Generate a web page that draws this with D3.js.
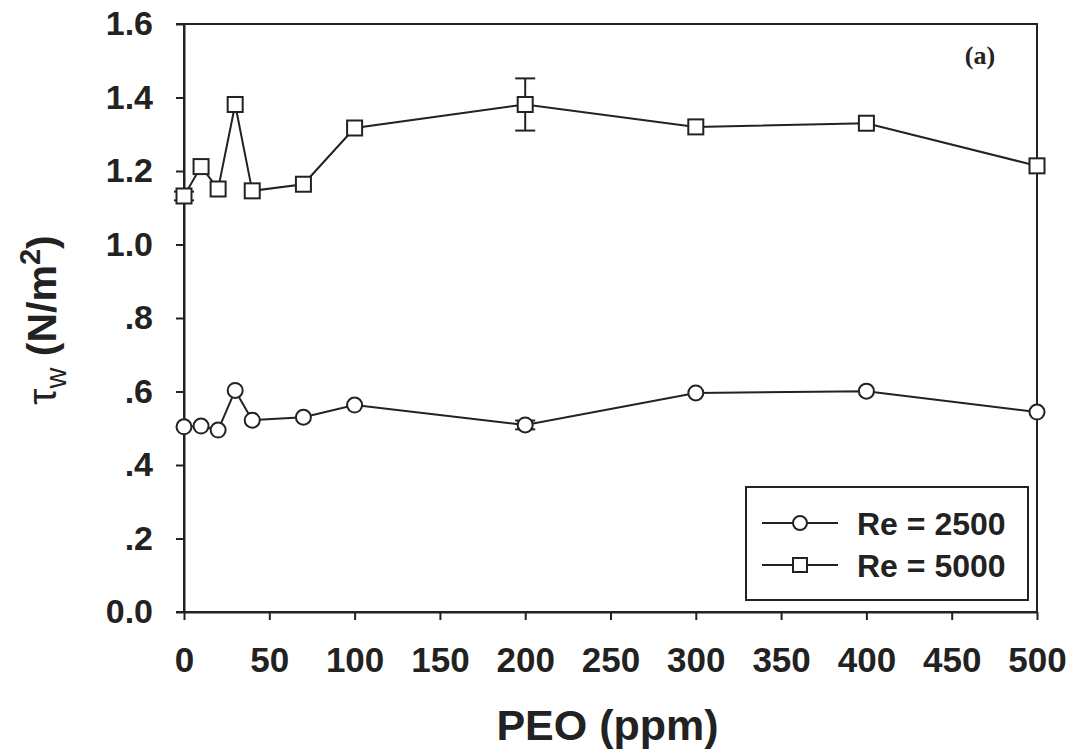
<!DOCTYPE html>
<html lang="en">
<head>
<meta charset="UTF-8">
<script src="https://d3js.org/d3.v7.min.js"></script>
<style>
  body { margin: 0; background: #fff; }
  #plot { width: 1072px; height: 755px; }
</style>
</head>
<body>
<div id="plot"></div>
<script>
// PEO concentration (ppm)
const peo = [0, 10, 20, 30, 40, 70, 100, 200, 300, 400, 500];
// wall shear stress, N/m^2
const re2500 = [0.504, 0.506, 0.495, 0.603, 0.522, 0.530, 0.563, 0.509, 0.596, 0.601, 0.544];
const re5000 = [1.132, 1.212, 1.151, 1.381, 1.146, 1.164, 1.317, 1.381, 1.320, 1.330, 1.214];
// error bar half widths
const err2500 = [0, 0, 0, 0, 0, 0, 0, 0.012, 0, 0, 0];
const err5000 = [0.012, 0, 0, 0, 0, 0, 0, 0.071, 0, 0, 0];
const xTicks = [0, 50, 100, 150, 200, 250, 300, 350, 400, 450, 500];
const yTicks = [0, 0.2, 0.4, 0.6, 0.8, 1.0, 1.2, 1.4, 1.6];
const yTickLabels = ["0.0", ".2", ".4", ".6", ".8", "1.0", "1.2", "1.4", "1.6"];

const W = 1072, H = 755;
const ink = "#222";
const font = "'Liberation Sans', Arial, sans-serif";
const mLeft = 184, mRight = 1037, mTop = 24, mBottom = 612;

const svg = d3.select("#plot").append("svg")
    .attr("width", W).attr("height", H)
    .style("font-family", font);

const x = d3.scaleLinear().domain([0, 500]).range([mLeft, mRight]);
const y = d3.scaleLinear().domain([0, 1.6]).range([mBottom, mTop]);

// frame
svg.append("rect")
    .attr("x", mLeft).attr("y", mTop)
    .attr("width", mRight - mLeft).attr("height", mBottom - mTop)
    .attr("fill", "none").attr("stroke", ink).attr("stroke-width", 2);

// axes
const xAxis = svg.append("g")
    .attr("transform", `translate(0,${mBottom})`)
    .call(d3.axisBottom(x).tickValues(xTicks).tickSize(8).tickPadding(27).tickSizeOuter(0));
const yAxis = svg.append("g")
    .attr("transform", `translate(${mLeft},0)`)
    .call(d3.axisLeft(y).tickValues(yTicks).tickSize(8).tickPadding(23).tickSizeOuter(0)
      .tickFormat((d, i) => yTickLabels[i]));

[xAxis, yAxis].forEach(g => {
  g.select(".domain").attr("stroke", ink).attr("stroke-width", 2);
  g.selectAll(".tick line").attr("stroke", ink).attr("stroke-width", 2);
  g.selectAll(".tick text")
    .attr("fill", ink)
    .style("font-family", font)
    .style("font-weight", "bold");
});
xAxis.selectAll(".tick text").style("font-size", "35px");
yAxis.selectAll(".tick text").style("font-size", "34px");
// extend axis lines a little past the origin like the original
svg.append("line").attr("x1", mLeft - 8).attr("x2", mLeft).attr("y1", mBottom).attr("y2", mBottom)
    .attr("stroke", ink).attr("stroke-width", 2);
svg.append("line").attr("x1", mLeft - 8).attr("x2", mLeft).attr("y1", mTop).attr("y2", mTop)
    .attr("stroke", ink).attr("stroke-width", 2);

// axis titles
svg.append("text")
    .attr("x", (mLeft + mRight) / 2 - 3).attr("y", 740)
    .attr("text-anchor", "middle")
    .attr("fill", ink)
    .style("font-size", "43px").style("font-weight", "bold")
    .text("PEO (ppm)");

const yt = svg.append("text")
    .attr("transform", `translate(56,${(mTop + mBottom) / 2 + 2}) rotate(-90)`)
    .attr("text-anchor", "middle")
    .attr("fill", ink)
    .style("font-size", "41px").style("font-weight", "bold");
yt.append("tspan").style("font-weight", "normal").text("τ");
yt.append("tspan").attr("dy", 10).style("font-size", "29px").style("font-weight", "normal").text("w");
yt.append("tspan").attr("dy", -10).text(" (N/m");
yt.append("tspan").attr("dy", -16).style("font-size", "29px").text("2");
yt.append("tspan").attr("dy", 16).text(")");

// panel label
svg.append("text")
    .attr("x", 980).attr("y", 64)
    .attr("text-anchor", "middle")
    .attr("fill", ink)
    .style("font-family", "'Liberation Serif', 'Times New Roman', serif")
    .style("font-size", "26px").style("font-weight", "bold")
    .text("(a)");

const line = d3.line().x(d => x(d[0])).y(d => y(d[1]));

function series(vals, errs, shape) {
  const pts = peo.map((p, i) => [p, vals[i], errs[i]]);
  const g = svg.append("g");
  g.append("path").datum(pts)
      .attr("d", line).attr("fill", "none")
      .attr("stroke", ink).attr("stroke-width", 2);
  const eb = g.selectAll(".eb").data(pts.filter(d => d[2] > 0)).join("g");
  eb.append("line")
      .attr("x1", d => x(d[0])).attr("x2", d => x(d[0]))
      .attr("y1", d => y(d[1] - d[2])).attr("y2", d => y(d[1] + d[2]))
      .attr("stroke", ink).attr("stroke-width", 2);
  [-1, 1].forEach(s => {
    eb.append("line")
        .attr("x1", d => x(d[0]) - 10).attr("x2", d => x(d[0]) + 10)
        .attr("y1", d => y(d[1] + s * d[2])).attr("y2", d => y(d[1] + s * d[2]))
        .attr("stroke", ink).attr("stroke-width", 2);
  });
  drawMarkers(g, pts, shape);
}

function drawMarkers(g, pts, shape) {
  if (shape === "circle") {
    g.selectAll("circle").data(pts).join("circle")
        .attr("cx", d => x(d[0])).attr("cy", d => y(d[1])).attr("r", 7.5)
        .attr("fill", "#fff").attr("stroke", ink).attr("stroke-width", 2);
  } else {
    g.selectAll("rect.m").data(pts).join("rect").attr("class", "m")
        .attr("x", d => x(d[0]) - 7.5).attr("y", d => y(d[1]) - 7.5)
        .attr("width", 15).attr("height", 15)
        .attr("fill", "#fff").attr("stroke", ink).attr("stroke-width", 2);
  }
}

series(re2500, err2500, "circle");
series(re5000, err5000, "square");

// legend
const lg = svg.append("g");
lg.append("rect")
    .attr("x", 746).attr("y", 487).attr("width", 282).attr("height", 113)
    .attr("fill", "#fff").attr("stroke", ink).attr("stroke-width", 2);
[["circle", "Re = 2500", 523], ["square", "Re = 5000", 565]].forEach(([shape, label, ly]) => {
  lg.append("line").attr("x1", 762).attr("x2", 838).attr("y1", ly).attr("y2", ly)
      .attr("stroke", ink).attr("stroke-width", 2);
  if (shape === "circle") {
    lg.append("circle").attr("cx", 800).attr("cy", ly).attr("r", 7)
        .attr("fill", "#fff").attr("stroke", ink).attr("stroke-width", 2);
  } else {
    lg.append("rect").attr("x", 793).attr("y", ly - 7).attr("width", 14).attr("height", 14)
        .attr("fill", "#fff").attr("stroke", ink).attr("stroke-width", 2);
  }
  lg.append("text").attr("x", 857).attr("y", ly + 12)
      .attr("fill", ink)
      .style("font-size", "32px").style("font-weight", "bold")
      .text(label);
});
</script>
</body>
</html>
